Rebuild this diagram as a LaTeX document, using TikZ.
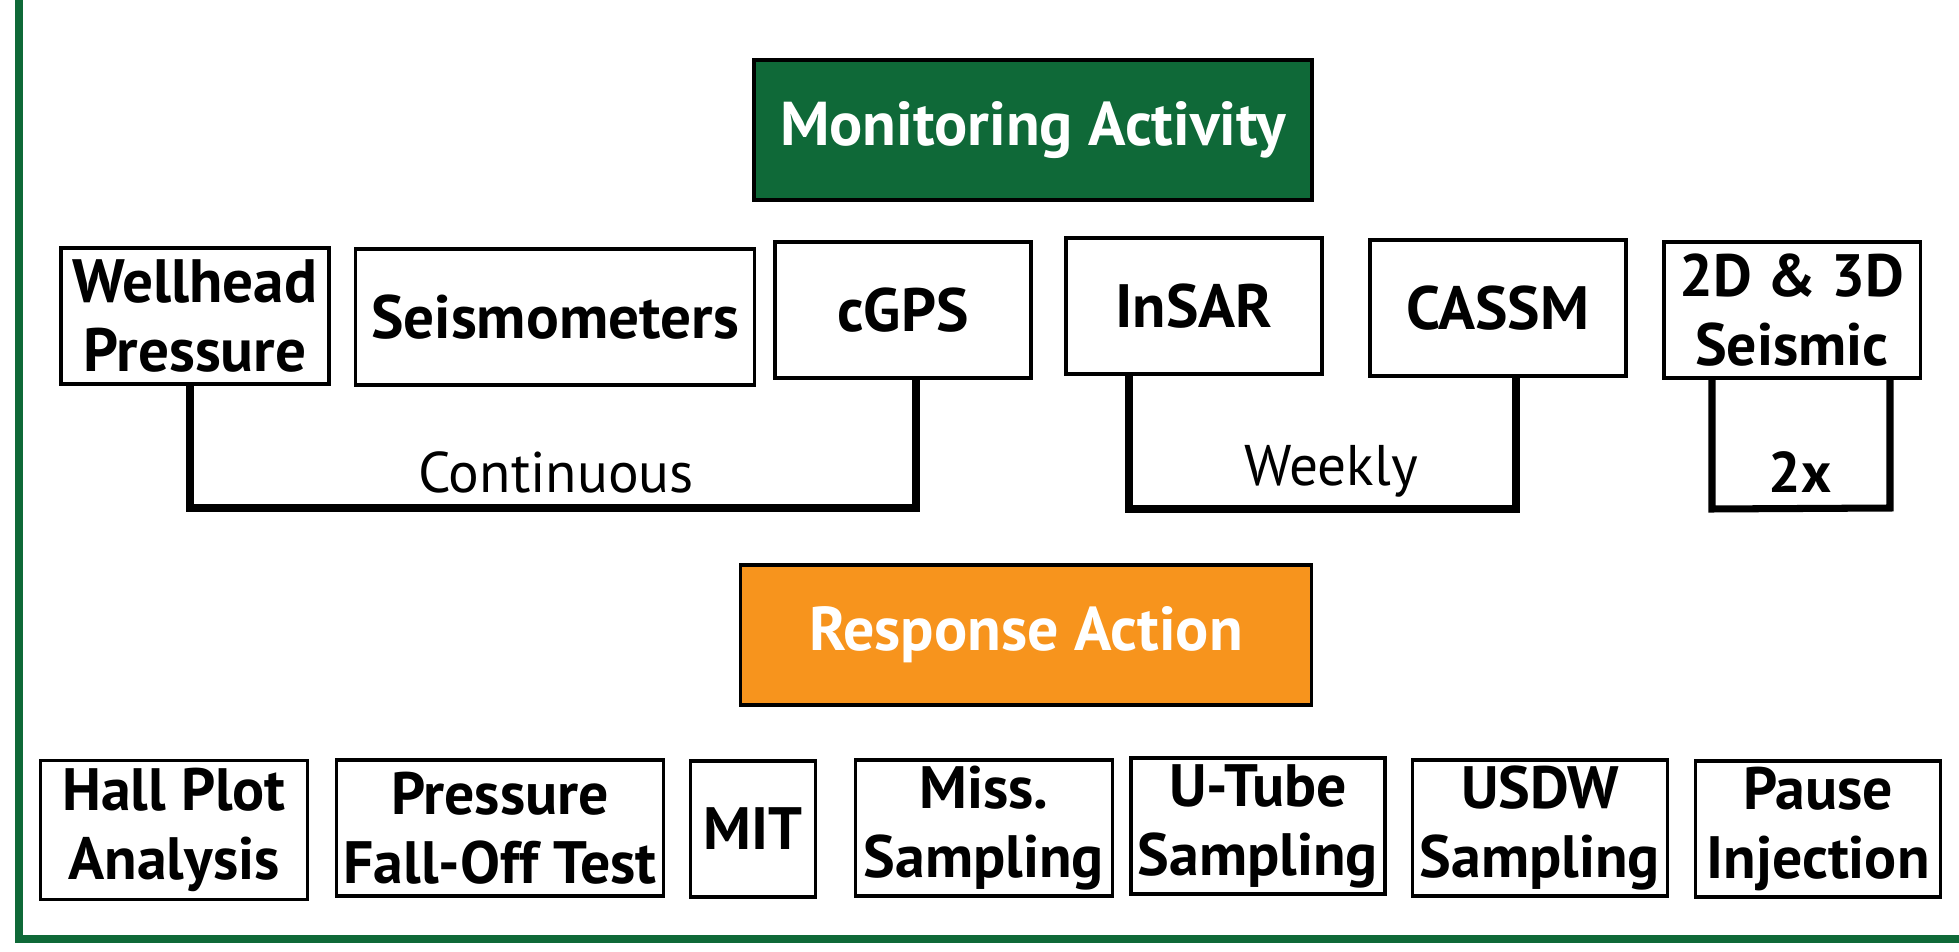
\documentclass[tikz,border=0pt]{standalone}
\usepackage{fontspec}
\setmainfont{PT Sans}
\definecolor{mongreen}{HTML}{0F6938}
\definecolor{resporange}{HTML}{F7941D}
\tikzset{
	box/.style={draw=black, line width=0.9pt, inner sep=0pt, align=center,
		minimum height=1.36cm, font=\fontsize{17}{19.6}\selectfont\bfseries},
	headbox/.style={box, line width=1pt, minimum height=1.4cm,
		text=white, font=\fontsize{17.6}{20}\selectfont\bfseries},
	bracket/.style={line width=2pt, line cap=rect},
	freq/.style={font=\fontsize{16.3}{18}\selectfont},
}
\begin{document}
\begin{tikzpicture}[x=0.01cm,y=-0.01cm]
	\useasboundingbox (0,0) rectangle (1959,952);
	% frame
	\draw[mongreen, line width=2pt] (19,0) -- (19,939) -- (1959,939);
	% monitoring
	\node[headbox, fill=mongreen, minimum width=5.58cm] (mon) at (1033,130) {Monitoring Activity};
	\node[box, minimum width=2.68cm, font=\fontsize{17.4}{19.8}\selectfont\bfseries] (wellhead) at (195,316) {Wellhead\\Pressure};
	\node[box, minimum width=3.98cm, font=\fontsize{17.4}{19.8}\selectfont\bfseries] (seismo) at (555,317) {Seismometers};
	\node[box, minimum width=2.56cm, font=\fontsize{17.4}{19.8}\selectfont\bfseries] (cgps) at (903,310) {cGPS};
	\node[box, minimum width=2.56cm, font=\fontsize{17.4}{19.8}\selectfont\bfseries] (insar) at (1194,306) {InSAR};
	\node[box, minimum width=2.56cm, font=\fontsize{17.4}{19.8}\selectfont\bfseries] (cassm) at (1498,308) {CASSM};
	\node[box, minimum width=2.56cm] (seismic) at (1792,310) {2D \& 3D\\Seismic};
	% frequency brackets
	\draw[bracket] (190,0 |- wellhead.south) -- (190,508) -- (916,508) -- (916,0 |- cgps.south);
	\draw[bracket] (1129,0 |- insar.south) -- (1129,509) -- (1516,509) -- (1516,0 |- cassm.south);
	\draw[bracket] (1712,0 |- seismic.south) -- (1712,509) -- (1890,508) -- (1890,0 |- seismic.south);
	\node[freq] (cont) at (556,472) {Continuous};
	\node[freq] (week) at (1331,471) {Weekly};
	\node[freq, font=\fontsize{16.3}{18}\selectfont\bfseries] (twice) at (1800,472) {2x};
	% response
	\node[headbox, fill=resporange, minimum width=5.71cm] (resp) at (1026,635) {Response Action};
	\node[box, minimum width=2.67cm, minimum height=1.39cm] (hall) at (174,830) {Hall Plot\\Analysis};
	\node[box, minimum width=3.27cm] (falloff) at (500,828) {Pressure\\Fall-Off Test};
	\node[box, minimum width=1.25cm] (mit) at (753,829) {MIT};
	\node[box, minimum width=2.57cm] (miss) at (984,828) {Miss.\\Sampling};
	\node[box, minimum width=2.54cm] (utube) at (1258,826) {U-Tube\\Sampling};
	\node[box, minimum width=2.55cm] (usdw) at (1540,828) {USDW\\Sampling};
	\node[box, minimum width=2.45cm] (pause) at (1818,829) {Pause\\Injection};
\end{tikzpicture}
\end{document}
